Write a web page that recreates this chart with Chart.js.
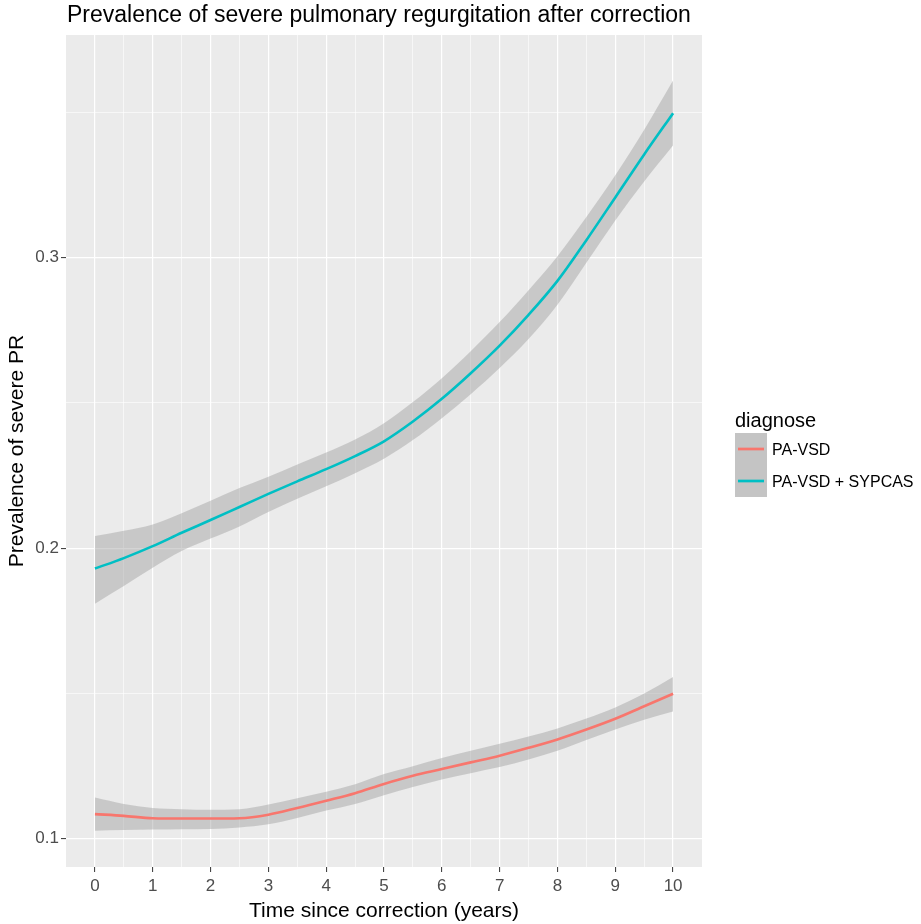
<!DOCTYPE html>
<html>
<head>
<meta charset="utf-8">
<script src="https://cdn.jsdelivr.net/npm/chart.js@4.4.0/dist/chart.umd.min.js"></script>
<style>
  html, body { margin: 0; padding: 0; background: #fff; }
  #wrap { width: 921px; height: 924px; position: relative; }
</style>
</head>
<body>
<div id="wrap"><canvas id="chart" width="921" height="924"></canvas></div>
<script>
// Data (geom_smooth fit with 95% band)
const years = [0, 0.5, 1, 1.5, 2, 2.5, 3, 3.5, 4, 4.5, 5, 5.5, 6, 6.5, 7, 7.5, 8, 8.5, 9, 9.5, 10];

const pavsdFit   = [0.1085, 0.1079, 0.1071, 0.1070, 0.1070, 0.1071, 0.1083, 0.1106, 0.1131, 0.1157, 0.1189,
                    0.1217, 0.1240, 0.1263, 0.1286, 0.1313, 0.1342, 0.1376, 0.1413, 0.1456, 0.1499];
const pavsdUpper = [0.1142, 0.1120, 0.1106, 0.1102, 0.1100, 0.1102, 0.1118, 0.1140, 0.1162, 0.1188, 0.1223,
                    0.1250, 0.1278, 0.1303, 0.1327, 0.1352, 0.1380, 0.1414, 0.1452, 0.1500, 0.1557];
const pavsdLower = [0.1028, 0.1030, 0.1032, 0.1033, 0.1034, 0.1039, 0.1050, 0.1072, 0.1097, 0.1120, 0.1150,
                    0.1178, 0.1204, 0.1226, 0.1247, 0.1273, 0.1303, 0.1340, 0.1376, 0.1410, 0.1438];

const sypcasFit   = [0.1930, 0.1966, 0.2007, 0.2053, 0.2097, 0.2142, 0.2187, 0.2230, 0.2272, 0.2317, 0.2368,
                     0.2436, 0.2514, 0.2602, 0.2697, 0.2803, 0.2920, 0.3060, 0.3207, 0.3355, 0.3497];
const sypcasUpper = [0.2042, 0.2060, 0.2082, 0.2120, 0.2163, 0.2207, 0.2246, 0.2288, 0.2329, 0.2374, 0.2430,
                     0.2503, 0.2585, 0.2678, 0.2778, 0.2888, 0.3005, 0.3140, 0.3283, 0.3440, 0.3610];
const sypcasLower = [0.1809, 0.1870, 0.1933, 0.1990, 0.2033, 0.2075, 0.2125, 0.2170, 0.2213, 0.2258, 0.2308,
                     0.2372, 0.2447, 0.2530, 0.2620, 0.2720, 0.2838, 0.2982, 0.3128, 0.3262, 0.3386];

const groupNames = ['PA-VSD', 'PA-VSD + SYPCAS'];
const xTicks = [0, 0.5, 1, 1.5, 2, 2.5, 3, 3.5, 4, 4.5, 5, 5.5, 6, 6.5, 7, 7.5, 8, 8.5, 9, 9.5, 10];
const yTicks = [0.1, 0.15, 0.2, 0.25, 0.3, 0.35];

const FONT = "'Liberation Sans', Arial, sans-serif";
const RED = '#F8766D';
const TEAL = '#00BFC4';
const BAND = 'rgba(153,153,153,0.42)';

const pts = arr => years.map((x, i) => ({ x: x, y: arr[i] }));
const isMajorX = v => Math.abs(v - Math.round(v)) < 1e-6;
const isMajorY = v => Math.abs(v * 10 - Math.round(v * 10)) < 1e-6;

// grey panel behind the grid (ggplot theme_grey)
const panelBg = {
    id: 'panelBg',
    beforeDraw(chart) {
        const { ctx, chartArea: a } = chart;
        ctx.save();
        ctx.fillStyle = '#EBEBEB';
        ctx.fillRect(a.left, a.top, a.right - a.left, a.bottom - a.top);
        ctx.restore();
    }
};

// title on top + legend on the right
const decorations = {
    id: 'decorations',
    afterDraw(chart) {
        const { ctx, chartArea: a } = chart;
        ctx.save();
        ctx.fillStyle = '#000';
        ctx.font = `23px ${FONT}`;
        ctx.textBaseline = 'middle';
        ctx.textAlign = 'left';
        ctx.fillText('Prevalence of severe pulmonary regurgitation after correction', a.left + 1, 16);

        // legend
        const lx = 735, ly = 433, kw = 32, kh = 32;
        ctx.font = `20px ${FONT}`;
        ctx.fillText('diagnose', lx, 421);
        const colors = [RED, TEAL];
        groupNames.forEach((name, i) => {
            const y0 = ly + i * kh;
            ctx.fillStyle = '#C4C4C4';
            ctx.fillRect(lx, y0, kw, kh);
            ctx.strokeStyle = colors[i];
            ctx.lineWidth = 2.7;
            ctx.beginPath();
            ctx.moveTo(lx + 3, y0 + kh / 2);
            ctx.lineTo(lx + kw - 3, y0 + kh / 2);
            ctx.stroke();
            ctx.fillStyle = '#000';
            ctx.font = `16px ${FONT}`;
            ctx.fillText(name, lx + kw + 5, y0 + kh / 2 + 2);
        });
        ctx.restore();
    }
};

const smooth = { pointRadius: 0, cubicInterpolationMode: 'monotone' };

const ctx = document.getElementById('chart').getContext('2d');
new Chart(ctx, {
    type: 'line',
    data: {
        datasets: [
            { label: 'pavsd-upper', data: pts(pavsdUpper), fill: 1, backgroundColor: BAND, borderWidth: 0, order: 2, ...smooth },
            { label: 'pavsd-lower', data: pts(pavsdLower), fill: false, borderWidth: 0, order: 2, ...smooth },
            { label: 'sypcas-upper', data: pts(sypcasUpper), fill: 3, backgroundColor: BAND, borderWidth: 0, order: 2, ...smooth },
            { label: 'sypcas-lower', data: pts(sypcasLower), fill: false, borderWidth: 0, order: 2, ...smooth },
            { label: groupNames[0], data: pts(pavsdFit), borderColor: RED, borderWidth: 2.6, fill: false, order: 1, ...smooth },
            { label: groupNames[1], data: pts(sypcasFit), borderColor: TEAL, borderWidth: 2.6, fill: false, order: 1, ...smooth }
        ]
    },
    options: {
        responsive: false,
        animation: false,
        layout: { padding: { top: 35, right: 219, left: 0, bottom: 0 } },
        plugins: { legend: { display: false }, title: { display: false }, tooltip: { enabled: false } },
        scales: {
            x: {
                type: 'linear',
                min: -0.5,
                max: 10.5,
                afterBuildTicks: s => { s.ticks = xTicks.map(v => ({ value: v })); },
                afterFit: s => { s.height = 57; },
                ticks: {
                    autoSkip: false, maxRotation: 0, padding: 4,
                    color: '#4D4D4D', font: { family: FONT, size: 17 },
                    callback: v => isMajorX(v) ? String(v) : ''
                },
                grid: {
                    color: '#FFFFFF',
                    lineWidth: c => isMajorX(c.tick.value) ? 1.2 : 0.6,
                    tickColor: c => isMajorX(c.tick.value) ? '#333333' : 'rgba(0,0,0,0)',
                    tickWidth: 1, tickLength: 5
                },
                border: { display: false },
                title: { display: true, text: 'Time since correction (years)', color: '#000',
                         font: { family: FONT, size: 21 }, padding: { top: 0, bottom: 0 } }
            },
            y: {
                type: 'linear',
                min: 0.0903,
                max: 0.3766,
                afterBuildTicks: s => { s.ticks = yTicks.map(v => ({ value: v })); },
                afterFit: s => { s.width = 66; },
                ticks: {
                    padding: 2, color: '#4D4D4D', font: { family: FONT, size: 17 },
                    callback: v => isMajorY(v) ? String(Math.round(v * 10) / 10) : ''
                },
                grid: {
                    color: '#FFFFFF',
                    lineWidth: c => isMajorY(c.tick.value) ? 1.2 : 0.6,
                    tickColor: c => isMajorY(c.tick.value) ? '#333333' : 'rgba(0,0,0,0)',
                    tickWidth: 1, tickLength: 5
                },
                border: { display: false },
                title: { display: true, text: 'Prevalence of severe PR', color: '#000',
                         font: { family: FONT, size: 21 }, padding: { top: 5, bottom: 5 } }
            }
        }
    },
    plugins: [panelBg, decorations]
});
</script>
</body>
</html>
